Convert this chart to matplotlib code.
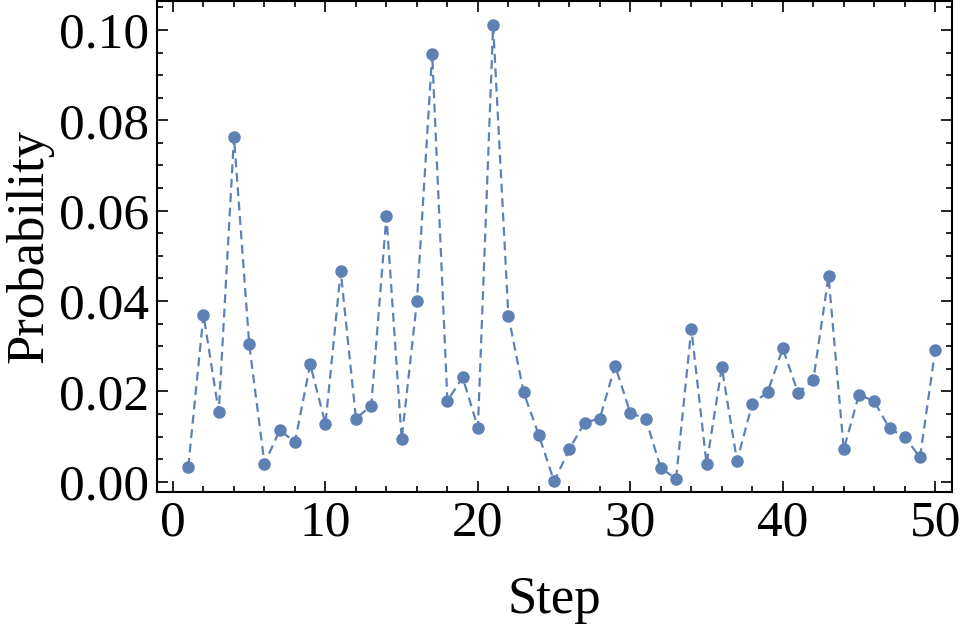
import matplotlib.pyplot as plt
from matplotlib.ticker import MultipleLocator

steps = list(range(1, 51))
prob = [0.0033, 0.0370, 0.0154, 0.0763, 0.0304, 0.0040, 0.0114, 0.0088, 0.0260, 0.0128,
        0.0466, 0.0140, 0.0168, 0.0588, 0.0094, 0.0399, 0.0947, 0.0179, 0.0231, 0.0120,
        0.1010, 0.0367, 0.0198, 0.0103, 0.0001, 0.0072, 0.0131, 0.0140, 0.0257, 0.0152,
        0.0140, 0.0030, 0.0007, 0.0339, 0.0039, 0.0253, 0.0046, 0.0173, 0.0198, 0.0295,
        0.0197, 0.0225, 0.0455, 0.0072, 0.0193, 0.0178, 0.0118, 0.0099, 0.0054, 0.0292]

plt.rcParams['font.family'] = ['Liberation Serif', 'DejaVu Serif']

fig = plt.figure(figsize=(9.61, 6.28), dpi=100)
ax = fig.add_axes([157 / 961, 1 - 491.7 / 628, (951.7 - 157) / 961, (491.7 - 1) / 628])

blue = '#5E81B5'
ax.plot(steps, prob, color=blue, linestyle=(0, (4, 2.5)), linewidth=1.6,
        marker='o', markersize=8, markerfacecolor=blue, markeredgecolor=blue)

ax.set_xlim(-1.05, 51.08)
ax.set_ylim(-0.0022, 0.1064)

ax.xaxis.set_major_locator(MultipleLocator(10))
ax.xaxis.set_minor_locator(MultipleLocator(2))
ax.yaxis.set_major_locator(MultipleLocator(0.02))
ax.yaxis.set_minor_locator(MultipleLocator(0.005))
ax.yaxis.set_major_formatter(plt.FuncFormatter(lambda v, p: f'{v:.2f}'))

ax.tick_params(which='both', direction='in', top=True, right=True, width=1.2)
ax.tick_params(which='major', length=8, labelsize=37, pad=6)
ax.tick_params(which='minor', length=4.5)
for s in ax.spines.values():
    s.set_linewidth(1.5)

ax.set_xlabel('Step', fontsize=38, labelpad=21)
ax.set_ylabel('Probability', fontsize=38, labelpad=4)

fig.savefig('out.png', dpi=100)
